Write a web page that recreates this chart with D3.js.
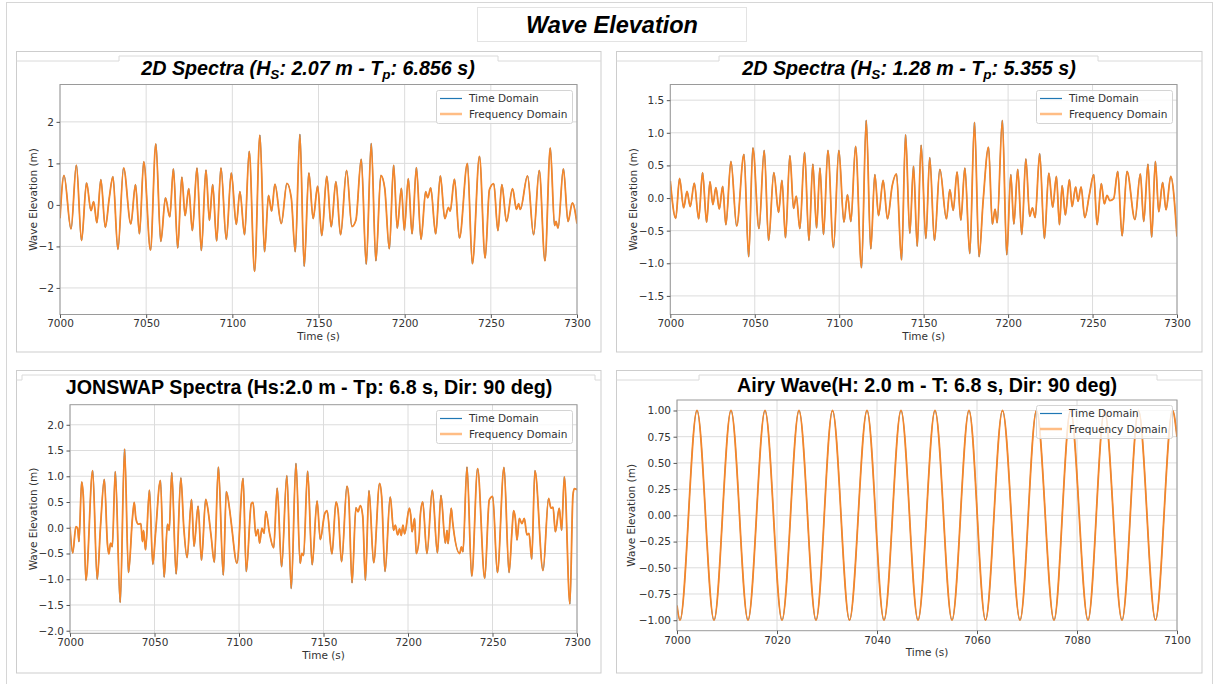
<!DOCTYPE html>
<html><head><meta charset="utf-8">
<script src="https://cdn.jsdelivr.net/npm/d3@7"></script>
<style>
html,body{margin:0;padding:0;background:#fff;}
svg{display:block;}
</style></head><body>
<svg id="chart" width="1217" height="684"></svg>
<script>
// ---------- DATA ----------
const pageTitle = "Wave Elevation";
const seriesNames = ["Time Domain", "Frequency Domain"];

// Top-left: 2D spectra Hs 2.07 m, Tp 6.856 s  ([time s, elevation m])
const tlSeries = [[7000.0,-0.32],[7002.3,0.71],[7006.4,-0.58],[7009.5,0.96],[7012.5,-0.86],[7015.4,0.53],[7018.0,-0.14],[7019.5,0.08],[7021.4,-0.43],[7023.7,0.61],[7026.3,-0.54],[7028.6,0.17],[7030.7,0.68],[7033.6,-1.07],[7036.9,0.89],[7041.1,-0.46],[7043.8,0.49],[7046.1,-0.70],[7048.6,1.04],[7052.5,-1.09],[7055.6,1.47],[7058.5,-0.88],[7061.2,0.17],[7063.7,-0.29],[7065.8,0.87],[7068.3,-1.04],[7070.7,0.67],[7072.6,-0.26],[7074.7,0.39],[7076.8,-0.62],[7079.5,0.89],[7082.0,-1.10],[7084.7,0.84],[7086.7,-0.37],[7088.6,0.49],[7090.9,-0.87],[7093.4,0.89],[7096.5,-0.83],[7099.4,0.77],[7102.3,-0.47],[7104.4,0.32],[7107.1,-0.72],[7109.8,1.29],[7112.9,-1.60],[7116.0,1.68],[7118.7,-1.13],[7121.0,0.23],[7122.8,-0.15],[7124.7,0.50],[7128.4,-0.45],[7131.7,0.52],[7134.2,0.17],[7136.5,-1.13],[7139.2,1.70],[7141.7,-1.48],[7144.4,0.77],[7146.9,-0.33],[7149.5,0.45],[7151.9,-0.74],[7154.8,0.69],[7157.4,-0.53],[7160.1,0.56],[7162.8,-0.72],[7166.3,0.83],[7169.4,-0.52],[7171.7,-0.37],[7174.8,1.10],[7177.7,-1.43],[7180.6,1.48],[7183.3,-1.35],[7186.2,0.71],[7188.4,0.41],[7191.1,-1.06],[7193.6,0.96],[7195.7,-0.56],[7198.1,0.40],[7199.8,-0.61],[7202.1,0.63],[7204.3,-0.70],[7206.8,0.90],[7209.5,-0.83],[7212.2,0.32],[7213.4,0.17],[7215.1,0.41],[7218.0,-0.70],[7220.7,0.70],[7223.3,-0.33],[7225.4,-0.06],[7226.4,-0.15],[7228.9,0.62],[7231.8,-0.80],[7236.4,1.00],[7239.3,-1.42],[7243.4,1.17],[7246.7,-1.28],[7249.2,0.37],[7251.7,0.51],[7254.1,-0.62],[7256.4,0.49],[7259.1,-0.40],[7262.6,0.39],[7264.9,-0.11],[7266.1,0.03],[7267.1,-0.11],[7271.3,0.70],[7274.8,-0.72],[7278.1,0.83],[7281.4,-1.35],[7284.5,1.37],[7287.0,-0.50],[7287.8,-0.40],[7289.0,-0.56],[7292.1,0.87],[7294.8,-0.40],[7297.3,0.05],[7300.0,-0.45]];

// Top-right: 2D spectra Hs 1.28 m, Tp 5.355 s
const trSeries = [[7000.0,0.26],[7003.2,-0.31],[7005.5,0.30],[7007.9,-0.15],[7009.9,0.10],[7011.8,-0.13],[7014.2,0.23],[7016.8,-0.32],[7019.1,0.39],[7021.5,-0.37],[7023.5,0.25],[7025.2,-0.10],[7027.0,0.16],[7029.0,-0.17],[7031.0,0.18],[7032.9,-0.41],[7035.9,0.56],[7039.3,-0.43],[7043.6,0.67],[7046.4,-0.90],[7048.9,0.77],[7052.5,-0.47],[7055.6,0.73],[7058.2,-0.65],[7061.3,0.39],[7064.1,-0.22],[7066.1,0.27],[7068.2,-0.61],[7070.8,0.65],[7073.0,-0.16],[7074.6,0.03],[7076.7,-0.47],[7079.5,0.70],[7082.1,-0.65],[7084.4,0.52],[7086.6,-0.46],[7088.6,0.46],[7090.7,-0.56],[7093.3,0.73],[7096.6,-0.76],[7099.8,0.73],[7102.8,-0.37],[7104.9,0.05],[7106.9,-0.36],[7109.7,0.79],[7113.2,-1.07],[7116.0,1.19],[7118.7,-0.78],[7121.1,0.36],[7123.3,-0.27],[7126.0,0.27],[7128.6,-0.32],[7131.4,0.19],[7133.9,0.37],[7136.9,-0.95],[7139.3,0.97],[7141.8,-0.54],[7144.0,0.49],[7146.2,-0.74],[7148.5,0.81],[7151.3,-0.62],[7153.6,0.62],[7156.4,-0.65],[7159.6,0.44],[7163.5,-0.32],[7165.5,0.13],[7167.5,-0.19],[7169.8,0.40],[7172.0,-0.34],[7174.4,0.46],[7177.3,-0.85],[7180.1,1.16],[7182.8,-0.90],[7185.2,-0.05],[7188.4,0.78],[7190.7,-0.40],[7192.3,-0.17],[7193.5,-0.38],[7196.6,1.19],[7199.2,-0.87],[7201.6,0.36],[7203.4,-0.40],[7205.7,0.44],[7208.1,-0.56],[7210.5,0.60],[7212.8,-0.28],[7214.4,-0.15],[7216.0,-0.30],[7218.7,0.68],[7221.5,-0.62],[7224.1,0.38],[7226.4,-0.14],[7228.6,0.33],[7230.4,-0.41],[7232.0,0.19],[7233.9,-0.26],[7236.3,0.28],[7237.9,-0.13],[7240.0,0.17],[7241.4,-0.05],[7243.2,0.17],[7245.4,-0.30],[7248.1,0.05],[7250.7,0.36],[7252.7,-0.41],[7255.2,0.22],[7257.0,-0.09],[7258.6,0.04],[7260.2,-0.04],[7262.5,-0.01],[7264.9,0.41],[7267.5,-0.58],[7270.4,0.41],[7275.1,-0.33],[7278.3,0.37],[7280.3,-0.36],[7282.8,0.52],[7285.0,-0.60],[7287.2,0.56],[7289.2,-0.21],[7291.5,0.24],[7293.5,-0.18],[7296.3,0.33],[7300.0,-0.59]];

// Bottom-left: JONSWAP Hs 2.0 m, Tp 6.8 s
const blSeries = [[7000.0,0.02],[7001.6,-0.49],[7003.5,0.02],[7004.5,-0.01],[7005.3,-0.27],[7006.9,0.89],[7007.9,0.60],[7009.4,-1.02],[7013.4,1.11],[7016.1,-1.00],[7018.1,0.05],[7020.3,0.94],[7022.2,-0.34],[7023.0,-0.51],[7024.0,-0.30],[7025.0,-0.37],[7026.8,1.09],[7029.7,-1.45],[7032.3,1.53],[7034.6,-0.87],[7037.0,0.21],[7038.0,0.49],[7039.0,0.18],[7040.4,0.07],[7041.9,0.08],[7042.9,-0.27],[7043.5,-0.05],[7044.7,-0.43],[7047.0,0.73],[7049.0,-0.71],[7050.6,-0.11],[7053.5,0.92],[7055.7,-0.96],[7057.7,0.07],[7058.7,-0.05],[7060.2,1.07],[7062.8,-0.90],[7065.6,0.97],[7067.3,0.02],[7069.3,-0.58],[7071.9,0.55],[7073.4,-0.36],[7075.8,0.42],[7077.8,-0.63],[7080.3,0.55],[7081.3,0.42],[7083.5,-0.16],[7085.4,-0.67],[7087.8,1.18],[7090.7,-0.92],[7092.5,0.70],[7094.5,0.34],[7095.5,0.07],[7098.8,-0.69],[7102.4,0.96],[7104.3,-0.85],[7107.3,0.47],[7108.3,0.49],[7110.0,-0.16],[7111.2,-0.03],[7112.2,-0.30],[7113.6,-0.01],[7114.8,-0.11],[7115.9,0.32],[7118.1,-0.11],[7120.5,-0.39],[7122.6,0.77],[7125.2,-0.76],[7128.3,1.01],[7130.9,-1.18],[7133.7,1.25],[7136.2,-0.69],[7137.2,-0.50],[7138.2,-0.54],[7140.6,1.10],[7143.3,-0.72],[7146.2,0.52],[7148.1,-0.23],[7150.7,0.27],[7152.1,0.33],[7155.0,-0.51],[7157.4,0.50],[7158.6,0.34],[7160.7,-0.66],[7163.9,0.81],[7164.9,0.60],[7166.9,-1.07],[7169.2,0.39],[7170.4,0.31],[7171.8,0.43],[7173.2,0.23],[7174.8,-1.02],[7176.9,0.72],[7179.7,-0.68],[7183.2,0.86],[7184.4,0.61],[7186.4,-0.85],[7189.5,0.60],[7191.5,-0.05],[7192.5,0.05],[7193.9,-0.14],[7195.0,-0.02],[7196.0,-0.15],[7197.0,0.05],[7198.0,-0.12],[7200.8,0.38],[7201.6,0.25],[7202.4,-0.08],[7203.9,0.18],[7204.9,-0.50],[7206.5,-0.24],[7207.3,0.25],[7208.7,0.50],[7211.2,-0.50],[7214.4,0.73],[7217.4,-0.49],[7219.5,0.63],[7222.1,-0.30],[7223.1,-0.05],[7223.7,-0.31],[7225.6,0.38],[7226.4,0.12],[7230.6,-0.50],[7231.6,-0.37],[7232.5,-0.47],[7234.9,1.18],[7237.7,-0.94],[7241.2,1.15],[7245.4,-0.98],[7248.1,0.54],[7250.1,0.61],[7252.9,-0.87],[7256.8,1.17],[7259.8,-0.87],[7261.5,-0.08],[7262.5,0.33],[7263.5,0.18],[7264.5,-0.24],[7265.9,0.18],[7267.4,0.08],[7268.8,0.18],[7270.4,-0.14],[7271.6,-0.11],[7273.2,-0.61],[7275.1,1.11],[7279.9,-0.83],[7283.2,0.57],[7284.6,0.38],[7285.8,0.40],[7287.2,-0.08],[7289.5,0.38],[7290.9,-0.05],[7292.5,0.99],[7295.8,-1.48],[7297.6,0.63],[7298.4,0.76],[7300.0,0.74]];

// Bottom-right: Airy wave H 2.0 m, T 6.8 s (crests and troughs)
const brSeries = [[7000.0,-0.86],[7000.6,-1],[7004.0,1],[7007.4,-1],[7010.8,1],[7014.2,-1],[7017.6,1],[7021.0,-1],[7024.4,1],[7027.8,-1],[7031.1,1],[7034.5,-1],[7038.0,1],[7041.4,-1],[7044.8,1],[7048.2,-1],[7051.6,1],[7055.0,-1],[7058.4,1],[7061.7,-1],[7065.1,1],[7068.6,-1],[7071.9,1],[7075.4,-1],[7078.7,1],[7082.2,-1],[7085.5,1],[7089.0,-1],[7092.3,1],[7095.7,-1],[7099.1,1],[7100.0,0.75]];

// Tick values
const xTicksLong = [7000,7050,7100,7150,7200,7250,7300];
const xTicksShort = [7000,7020,7040,7060,7080,7100];
const tlYTicks = [-2,-1,0,1,2];
const trYTicks = [-1.5,-1.0,-0.5,0.0,0.5,1.0,1.5];
const blYTicks = [-2.0,-1.5,-1.0,-0.5,0.0,0.5,1.0,1.5,2.0];
const brYTicks = [-1.00,-0.75,-0.50,-0.25,0.00,0.25,0.50,0.75,1.00];

// Titles (segments; sub = subscript)
const tlTitle = [["2D Spectra (H"],["S",1],[": 2.07 m - T"],["p",1],[": 6.856 s)"]];
const trTitle = [["2D Spectra (H"],["S",1],[": 1.28 m - T"],["p",1],[": 5.355 s)"]];
const blTitle = [["JONSWAP Spectra (Hs:2.0 m - Tp: 6.8 s, Dir: 90 deg)"]];
const brTitle = [["Airy Wave(H: 2.0 m - T: 6.8 s, Dir: 90 deg)"]];
const xLabel = "Time (s)";
const yLabel = "Wave Elevation (m)";

// ---------- DRAWING ----------
const svg = d3.select("#chart");
const TICKFONT = "'DejaVu Sans', sans-serif";
const TITLEFONT = "'Liberation Sans', Arial, sans-serif";
const BLUE = "#1f77b4", ORANGE = "#f5862a", ORANGE_LIGHT = "#ffbd85";

// page frame
svg.append("rect").attr("x",6.5).attr("y",2.5).attr("width",1206).attr("height",690)
  .attr("fill","#fff").attr("stroke","#d6d6d6");
// page title box
svg.append("rect").attr("x",477.5).attr("y",7.5).attr("width",269).attr("height",34)
  .attr("fill","#fff").attr("stroke","#e3e3e3");
svg.append("text").attr("x",612).attr("y",33).attr("text-anchor","middle")
  .attr("font-family",TITLEFONT).attr("font-weight","bold").attr("font-style","italic")
  .attr("font-size",23.5).attr("fill","#000").text(pageTitle);

const panels = [
  {data: tlSeries, title: tlTitle, italic: true, titleX: 308, titleY: 75,
   card: [16.5, 601, 51.5, 352], notch: [119, 498],
   plot: [60, 577, 84.5, 314.5], xDomain: [7000,7300], yDomain: [-2.64, 2.9],
   xTicks: xTicksLong, yTicks: tlYTicks, yFmt: d3.format("d"),
   legend: [436, 90], yLabelX: 33},
  {data: trSeries, title: trTitle, italic: true, titleX: 909, titleY: 75,
   card: [616.5, 1202, 51.5, 352], notch: [719, 1098],
   plot: [670.3, 1177, 84.5, 314.5], xDomain: [7000,7300], yDomain: [-1.785, 1.74],
   xTicks: xTicksLong, yTicks: trYTicks, yFmt: d3.format(".1f"),
   legend: [1036, 90], yLabelX: 633},
  {data: blSeries, title: blTitle, italic: false, titleX: 309, titleY: 394,
   card: [16.5, 601, 370.5, 673], notch: [22, 595],
   plot: [70, 577, 404.7, 633.3], xDomain: [7000,7300], yDomain: [-2.05, 2.39],
   xTicks: xTicksLong, yTicks: blYTicks, yFmt: d3.format(".1f"),
   legend: [436, 410], yLabelX: 33},
  {data: brSeries, title: brTitle, italic: false, titleX: 927, titleY: 392,
   card: [616.5, 1202, 370.5, 673], notch: [699, 1157],
   plot: [677, 1177, 400, 630.7], xDomain: [7000,7100], yDomain: [-1.1, 1.1],
   xTicks: xTicksShort, yTicks: brYTicks, yFmt: d3.format(".2f"),
   legend: [1036, 405], yLabelX: 631}
];

panels.forEach((p, i) => {
  const g = svg.append("g");
  const [cx0, cx1, cy0, cy1] = p.card;
  g.append("rect").attr("x",cx0).attr("y",cy0).attr("width",cx1-cx0).attr("height",cy1-cy0)
    .attr("fill","#fff").attr("stroke","#cdcdcd");
  g.append("path")
    .attr("d",`M${cx0},${cy0+9.5}H${p.notch[0]}V${cy0+4.5}H${p.notch[1]}V${cy0+9.5}H${cx1}`)
    .attr("fill","none").attr("stroke","#dadada");

  const [px0, px1, py0, py1] = p.plot;
  const x = d3.scaleLinear().domain(p.xDomain).range([px0, px1]);
  const y = d3.scaleLinear().domain(p.yDomain).range([py1, py0]);

  // grid
  g.append("g").selectAll("line").data(p.xTicks).join("line")
    .attr("x1",d=>x(d)).attr("x2",d=>x(d)).attr("y1",py0).attr("y2",py1)
    .attr("stroke","#dcdcdc").attr("stroke-width",1);
  g.append("g").selectAll("line").data(p.yTicks).join("line")
    .attr("y1",d=>y(d)).attr("y2",d=>y(d)).attr("x1",px0).attr("x2",px1)
    .attr("stroke","#dcdcdc").attr("stroke-width",1);

  // clip
  const cid = "clip" + i;
  svg.append("clipPath").attr("id",cid).append("rect")
    .attr("x",px0).attr("y",py0).attr("width",px1-px0).attr("height",py1-py0);

  const line = d3.line().x(d=>x(d[0])).y(d=>y(d[1])).curve(d3.curveMonotoneX);
  const lg = g.append("g").attr("clip-path",`url(#${cid})`);
  lg.append("path").attr("d",line(p.data)).attr("fill","none").attr("stroke",BLUE).attr("stroke-width",0.8);
  lg.append("path").attr("d",line(p.data)).attr("fill","none").attr("stroke",ORANGE).attr("stroke-width",1.8);

  // frame
  g.append("rect").attr("x",px0).attr("y",py0).attr("width",px1-px0).attr("height",py1-py0)
    .attr("fill","none").attr("stroke","#9a9a9a").attr("stroke-width",1);

  // axes
  const ax = g.append("g").attr("transform",`translate(0,${py1})`)
    .call(d3.axisBottom(x).tickValues(p.xTicks).tickFormat(d3.format("d")).tickSize(3.5).tickPadding(2));
  const ay = g.append("g").attr("transform",`translate(${px0},0)`)
    .call(d3.axisLeft(y).tickValues(p.yTicks).tickFormat(p.yFmt).tickSize(3.5).tickPadding(2.5));
  [ax, ay].forEach(a => {
    a.select(".domain").remove();
    a.selectAll(".tick line").attr("stroke","#555");
    a.selectAll(".tick text").attr("font-family",TICKFONT).attr("font-size",10.5).attr("fill","#333");
  });

  // axis labels
  g.append("text").attr("x",(px0+px1)/2).attr("y",py1+25.5).attr("text-anchor","middle")
    .attr("font-family",TICKFONT).attr("font-size",10.5).attr("fill","#333").text(xLabel);
  g.append("text").attr("transform",`translate(${p.yLabelX},${(py0+py1)/2}) rotate(-90)`)
    .attr("text-anchor","middle").attr("dominant-baseline","central")
    .attr("font-family",TICKFONT).attr("font-size",10.5).attr("fill","#333").text(yLabel);

  // title
  const t = g.append("text").attr("x",p.titleX).attr("y",p.titleY).attr("text-anchor","middle")
    .attr("font-family",TITLEFONT).attr("font-weight","bold").attr("font-size",19.7)
    .attr("font-style", p.italic ? "italic" : "normal").attr("fill","#000");
  p.title.forEach(seg => {
    const ts = t.append("tspan").text(seg[0]);
    if (seg[1]) ts.attr("font-size",13.5).attr("dy",4);
    else if (t.selectAll("tspan").size() > 1) ts.attr("dy",-4);
  });

  // legend
  const [lx, ly] = p.legend;
  const leg = g.append("g");
  leg.append("rect").attr("x",lx+0.5).attr("y",ly+0.5).attr("width",136).attr("height",33).attr("rx",2)
    .attr("fill","#fff").attr("fill-opacity",0.8).attr("stroke","#d4d4d4");
  const items = [{name: seriesNames[0], color: BLUE, w: 1.2, dy: 8.5},
                 {name: seriesNames[1], color: ORANGE_LIGHT, w: 2.5, dy: 24}];
  items.forEach(it => {
    leg.append("line").attr("x1",lx+4).attr("x2",lx+26).attr("y1",ly+it.dy).attr("y2",ly+it.dy)
      .attr("stroke",it.color).attr("stroke-width",it.w);
    leg.append("text").attr("x",lx+33).attr("y",ly+it.dy+3.8)
      .attr("font-family",TICKFONT).attr("font-size",10.5).attr("fill","#333").text(it.name);
  });
});
</script></body></html>
